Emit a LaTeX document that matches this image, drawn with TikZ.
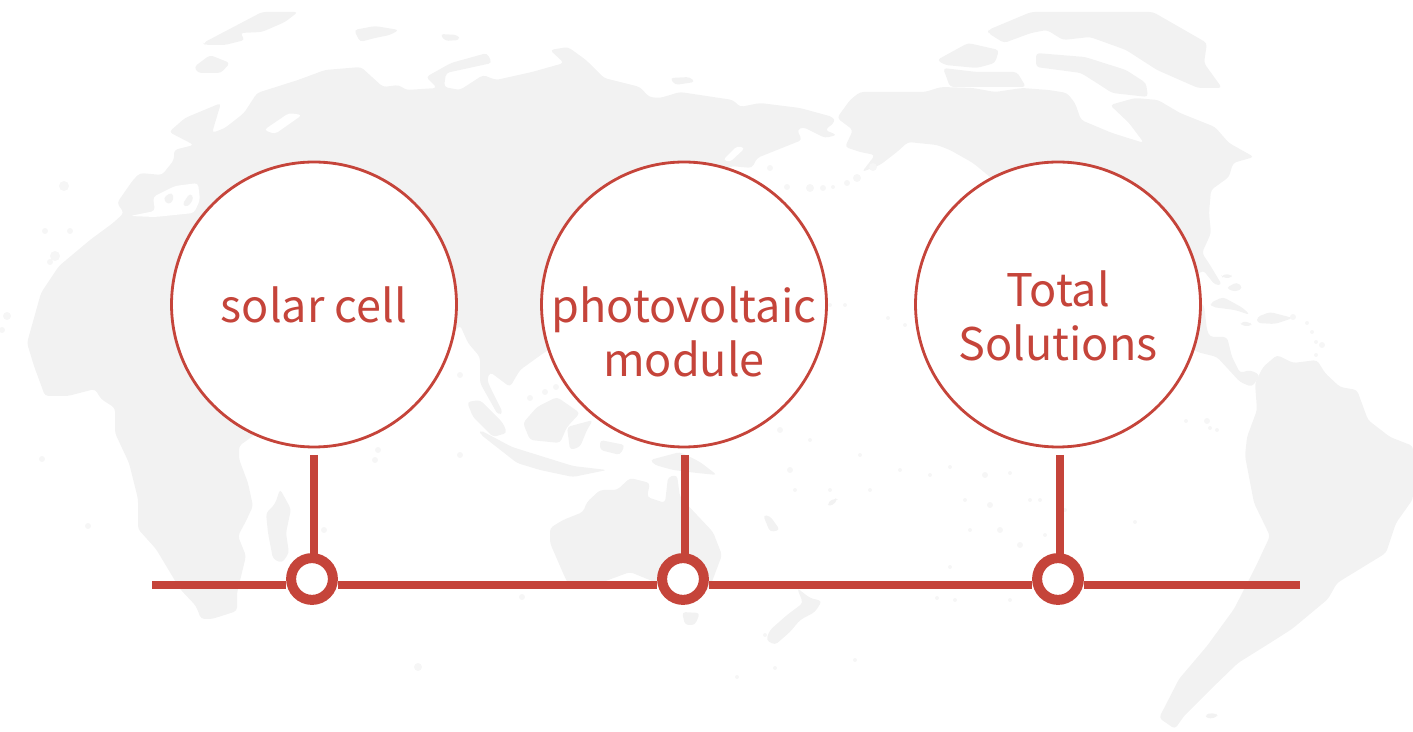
\documentclass[tikz,border=0pt]{standalone}
\usepackage{fontspec}
\newfontfamily\labelfont{Noto Sans CJK SC}
\usepackage{tikz}
\definecolor{brick}{HTML}{C5443A}
\definecolor{landgray}{HTML}{F2F2F2}
\definecolor{isletgray}{HTML}{F6F6F6}
\tikzstyle{land} = [fill=landgray, rounded corners=2pt]
\tikzstyle{sea} = [fill=white, rounded corners=2pt]
\tikzstyle{islet} = [fill=isletgray]
\tikzstyle{ball} = [circle, draw=brick, fill=white, line width=1.6pt, inner sep=0, minimum size=162.2pt]
\tikzstyle{ring} = [circle, draw=brick, fill=white, line width=5.7pt, inner sep=0, minimum size=23.8pt]
\tikzstyle{caption} = [text=brick, align=center, inner sep=0, font=\labelfont\fontsize{25.6}{30.6}\selectfont]
\tikzstyle{axis} = [draw=brick, line width=4.5pt]
\tikzstyle{stem} = [draw=brick, line width=4.5pt, shorten >=-1pt]

\begin{document}
\begin{tikzpicture}[x=0.02cm, y=-0.02cm]
	\useasboundingbox (0, 0) rectangle (1413, 732);

	% old world
	\fill [land] (27,343) -- (41,293) -- (59,266) -- (90,240) -- (113,223) -- (124,213) -- (117,203) -- (133,180) -- (140,173) -- (162,175) -- (174,160) -- (174,150) -- (194,145) -- (169,132) -- (185,118) -- (221,103) -- (212,133) -- (225,128) -- (244,113) -- (257,93) -- (298,80) -- (325,70) -- (361,67) -- (383,87) -- (399,85) -- (406,90) -- (437,88) -- (426,77) -- (451,63) -- (487,53) -- (492,63) -- (446,73) -- (444,87) -- (460,90) -- (483,75) -- (496,80) -- (532,72) -- (564,63) -- (550,50) -- (568,47) -- (586,60) -- (604,78) -- (640,87) -- (649,97) -- (660,98) -- (680,92) -- (733,100) -- (740,107) -- (760,103) -- (800,108) -- (833,117) -- (835,122) -- (825,130) -- (837,135) -- (825,138) -- (803,127) -- (797,130) -- (802,140) -- (777,150) -- (757,158) -- (752,168) -- (730,166) -- (650,300) -- (545,352) -- (520,370) -- (510,387) -- (490,372) -- (487,380) -- (493,393) -- (503,413) -- (498,415) -- (480,383) -- (480,357) -- (468,343) -- (460,325) -- (440,350) -- (300,400) -- (253,436) -- (239,446) -- (239,459) -- (248,483) -- (253,506) -- (246,521) -- (238,536) -- (246,556) -- (237,593) -- (237,611) -- (212,619) -- (201,619) -- (196,606) -- (180,589) -- (156,549) -- (138,529) -- (138,499) -- (129,463) -- (115,433) -- (115,408) -- (101,399) -- (95,389) -- (68,396) -- (45,396) -- (34,366) -- cycle;
	\fill [sea] (130,216) -- (155,211) -- (153,197) -- (175,186) -- (198,183) -- (200,200) -- (194,213) -- (155,217) -- cycle;
	\fill [sea] (264,130) -- (275,134) -- (302,115) -- (289,113) -- cycle;
	\fill [sea] (723,160) -- (737,146) -- (745,148) -- (730,162) -- cycle;
	\fill [land] (163,198) -- (172,192) -- (174,200) -- (168,205) -- cycle;
	\fill [land] (182,205) -- (190,193) -- (194,198) -- (188,207) -- cycle;

	% northern islands
	\fill [land] (203,43) -- (262,12) -- (298,12) -- (285,22) -- (262,32) -- (240,33) -- (245,40) -- (225,45) -- (205,45) -- cycle;
	\fill [land] (194,67) -- (210,55) -- (230,63) -- (221,73) -- (198,73) -- cycle;
	\fill [land] (354,30) -- (375,26) -- (399,30) -- (390,35) -- (375,38) -- (360,42) -- cycle;
	\fill [land] (440,34) -- (458,35) -- (460,40) -- (445,41) -- cycle;
	\fill [land] (670,78) -- (690,77) -- (695,82) -- (675,85) -- cycle;

	% madagascar, indonesia, australia
	\fill [land] (280,489) -- (291,509) -- (286,533) -- (289,553) -- (282,563) -- (273,559) -- (268,533) -- (266,513) -- (275,504) -- cycle;
	\fill [land] (467,402) -- (480,400) -- (503,423) -- (507,433) -- (493,437) -- (473,417) -- cycle;
	\fill [land] (480,430) -- (512,447) -- (573,466) -- (607,470) -- (573,477) -- (540,470) -- (517,463) -- (480,434) -- cycle;
	\fill [land] (523,423) -- (537,407) -- (557,397) -- (580,413) -- (567,427) -- (560,443) -- (530,440) -- cycle;
	\fill [land] (567,427) -- (593,420) -- (587,430) -- (580,447) -- (570,450) -- cycle;
	\fill [land] (600,440) -- (625,445) -- (620,455) -- (600,450) -- cycle;
	\fill [land] (650,460) -- (680,452) -- (700,462) -- (717,475) -- (697,473) -- (673,470) -- (655,465) -- cycle;
	\fill [land] (550,528) -- (563,520) -- (583,512) -- (587,502) -- (600,490) -- (617,490) -- (630,478) -- (650,483) -- (647,497) -- (665,503) -- (668,477) -- (677,475) -- (680,497) -- (697,515) -- (713,532) -- (722,555) -- (710,587) -- (703,593) -- (683,590) -- (657,583) -- (630,572) -- (603,582) -- (570,588) -- (563,573) -- (550,543) -- cycle;
	\fill [land] (682,612) -- (700,613) -- (695,625) -- (685,625) -- cycle;
	\fill [land] (797,588) -- (810,598) -- (822,601) -- (815,612) -- (800,620) -- (790,632) -- (775,645) -- (766,640) -- (770,630) -- (787,615) -- (803,603) -- cycle;
	\fill [land] (763,515) -- (770,516) -- (780,530) -- (770,532) -- cycle;
	\fill [land] (827,503) -- (835,498) -- (838,500) -- (830,507) -- cycle;

	% north america and greenland
	\fill [land] (837,118) -- (850,100) -- (860,92) -- (925,92) -- (941,87) -- (973,88) -- (995,92) -- (1022,88) -- (1049,90) -- (1067,93) -- (1075,103) -- (1081,120) -- (1112,133) -- (1144,143) -- (1129,123) -- (1110,105) -- (1135,98) -- (1158,100) -- (1180,113) -- (1215,127) -- (1229,143) -- (1254,157) -- (1233,163) -- (1229,177) -- (1211,190) -- (1209,213) -- (1211,233) -- (1202,253) -- (1210,265) -- (1222,285) -- (1215,285) -- (1203,270) -- (1180,290) -- (1100,300) -- (990,177) -- (973,163) -- (950,150) -- (937,145) -- (908,142) -- (897,152) -- (880,165) -- (862,172) -- (875,155) -- (860,152) -- (845,147) -- (853,130) -- cycle;
	\fill [land] (988,30) -- (1031,12) -- (1153,12) -- (1207,43) -- (1204,63) -- (1222,88) -- (1198,88) -- (1157,70) -- (1126,50) -- (1090,37) -- (1063,40) -- (1047,30) -- (1031,33) -- (1004,43) -- (988,33) -- cycle;
	\fill [land] (937,60) -- (968,43) -- (999,50) -- (995,63) -- (977,68) -- (945,65) -- cycle;
	\fill [land] (943,68) -- (977,72) -- (1017,72) -- (1026,87) -- (973,87) -- (950,87) -- cycle;
	\fill [land] (1036,53) -- (1085,57) -- (1126,70) -- (1146,83) -- (1148,97) -- (1112,93) -- (1103,87) -- (1081,73) -- (1036,67) -- cycle;

	% central america and caribbean
	\fill [land] (1180,290) -- (1204,305) -- (1207,330) -- (1210,337) -- (1227,337) -- (1232,357) -- (1240,373) -- (1250,370) -- (1260,375) -- (1252,387) -- (1240,382) -- (1217,357) -- (1197,352) -- (1180,340) -- cycle;
	\fill [land] (1210,303) -- (1223,297) -- (1243,308) -- (1250,315) -- (1235,310) -- (1212,307) -- cycle;
	\fill [land] (1257,317) -- (1270,312) -- (1293,318) -- (1275,324) -- (1257,323) -- cycle;
	\fill [land] (1240,322) -- (1250,322) -- (1252,326) -- (1242,326) -- cycle;
	\fill [land] (1221,275) -- (1231,274) -- (1232,278) -- (1223,278) -- cycle;
	\fill [land] (1226,288) -- (1237,282) -- (1243,288) -- (1235,292) -- cycle;

	% south america
	\fill [land] (1263,367) -- (1277,355) -- (1293,363) -- (1317,360) -- (1325,373) -- (1340,387) -- (1357,390) -- (1368,420) -- (1390,437) -- (1413,446) -- (1413,499) -- (1396,523) -- (1386,553) -- (1337,583) -- (1328,599) -- (1292,629) -- (1270,643) -- (1238,663) -- (1211,689) -- (1184,716) -- (1175,729) -- (1159,718) -- (1179,679) -- (1207,646) -- (1234,609) -- (1256,566) -- (1270,536) -- (1254,503) -- (1245,456) -- (1247,437) -- (1257,410) -- (1255,383) -- cycle;
	\fill [land] (1205,714) -- (1216,713) -- (1218,717) -- (1207,719) -- cycle;

	% small islands
	\path [islet] (64,186) circle (5) (45,231) circle (3) (70,231) circle (3) (55,256) circle (5) (50,262) circle (3) (7,316) circle (4) (2,330) circle (3)
		(42,459) circle (3) (88,526) circle (3) (324,530) circle (3) (418,667) circle (4) (522,597) circle (3) (460,375) circle (3) (378,450) circle (3)
		(375,460) circle (3) (460,455) circle (3) (688,470) circle (2) (545,392) circle (3) (556,387) circle (3) (530,398) circle (3)
		(787,187) circle (3) (810,188) circle (4) (823,188) circle (3) (833,187) circle (2) (847,183) circle (3) (857,178) circle (4) (873,167) circle (4) (770,168) circle (3)
		(800,295) circle (2) (830,305) circle (2) (845,305) circle (2) (888,318) circle (2) (905,325) circle (2)
		(760,410) circle (2) (780,430) circle (3) (810,440) circle (2) (790,470) circle (3) (795,490) circle (2) (830,490) circle (2) (860,455) circle (2) (870,490) circle (2)
		(900,470) circle (2) (930,475) circle (2) (950,467) circle (2) (985,475) circle (3) (1010,473) circle (2) (965,500) circle (2) (990,505) circle (3) (1000,530) circle (3) (1040,500) circle (2)
		(1030,500) circle (2) (970,530) circle (2) (1020,545) circle (3) (1045,535) circle (2) (1065,510) circle (2) (950,567) circle (2) (955,600) circle (2) (937,598) circle (2)
		(1135,522) circle (2) (1010,600) circle (2) (855,660) circle (2) (765,635) circle (2) (737,677) circle (2) (775,668) circle (2)
		(1028,405) circle (3) (1207,421) circle (3) (1210,428) circle (2) (1217,430) circle (2) (1186,421) circle (2)
		(1293,317) circle (3) (1307,323) circle (2) (1312,332) circle (2) (1316,342) circle (2) (1322,345) circle (3) (1316,355) circle (2);

	% timeline
	\node (Cell) [ball] at (314, 304.5) {};
	\node (CellText) [caption] at (314, 305) {solar cell};
	\node (Module) [ball] at (684, 304.5) {};
	\node (ModuleText) [caption] at (684, 332) {photovoltaic\\module};
	\node (Total) [ball] at (1058, 304.5) {};
	\node (TotalText) [caption] at (1058, 316) {Total\\Solutions};

	\node (CellRing) [ring] at (312, 579) {};
	\node (ModuleRing) [ring] at (683, 579) {};
	\node (TotalRing) [ring] at (1058, 579) {};

	\coordinate (AxisIn) at (152, 585);
	\coordinate (AxisOut) at (1300, 585);
	\draw [axis] (AxisIn) -- (AxisIn -| CellRing.west);
	\draw [axis] (AxisIn -| CellRing.east) -- (AxisIn -| ModuleRing.west);
	\draw [axis] (AxisIn -| ModuleRing.east) -- (AxisIn -| TotalRing.west);
	\draw [axis] (AxisIn -| TotalRing.east) -- (AxisOut);

	\coordinate (CellStem) at (314, 455);
	\draw [stem] (CellStem) -- (CellStem |- CellRing.north);
	\coordinate (ModuleStem) at (685, 455);
	\draw [stem] (ModuleStem) -- (ModuleStem |- ModuleRing.north);
	\coordinate (TotalStem) at (1060, 455);
	\draw [stem] (TotalStem) -- (TotalStem |- TotalRing.north);
\end{tikzpicture}
\end{document}
